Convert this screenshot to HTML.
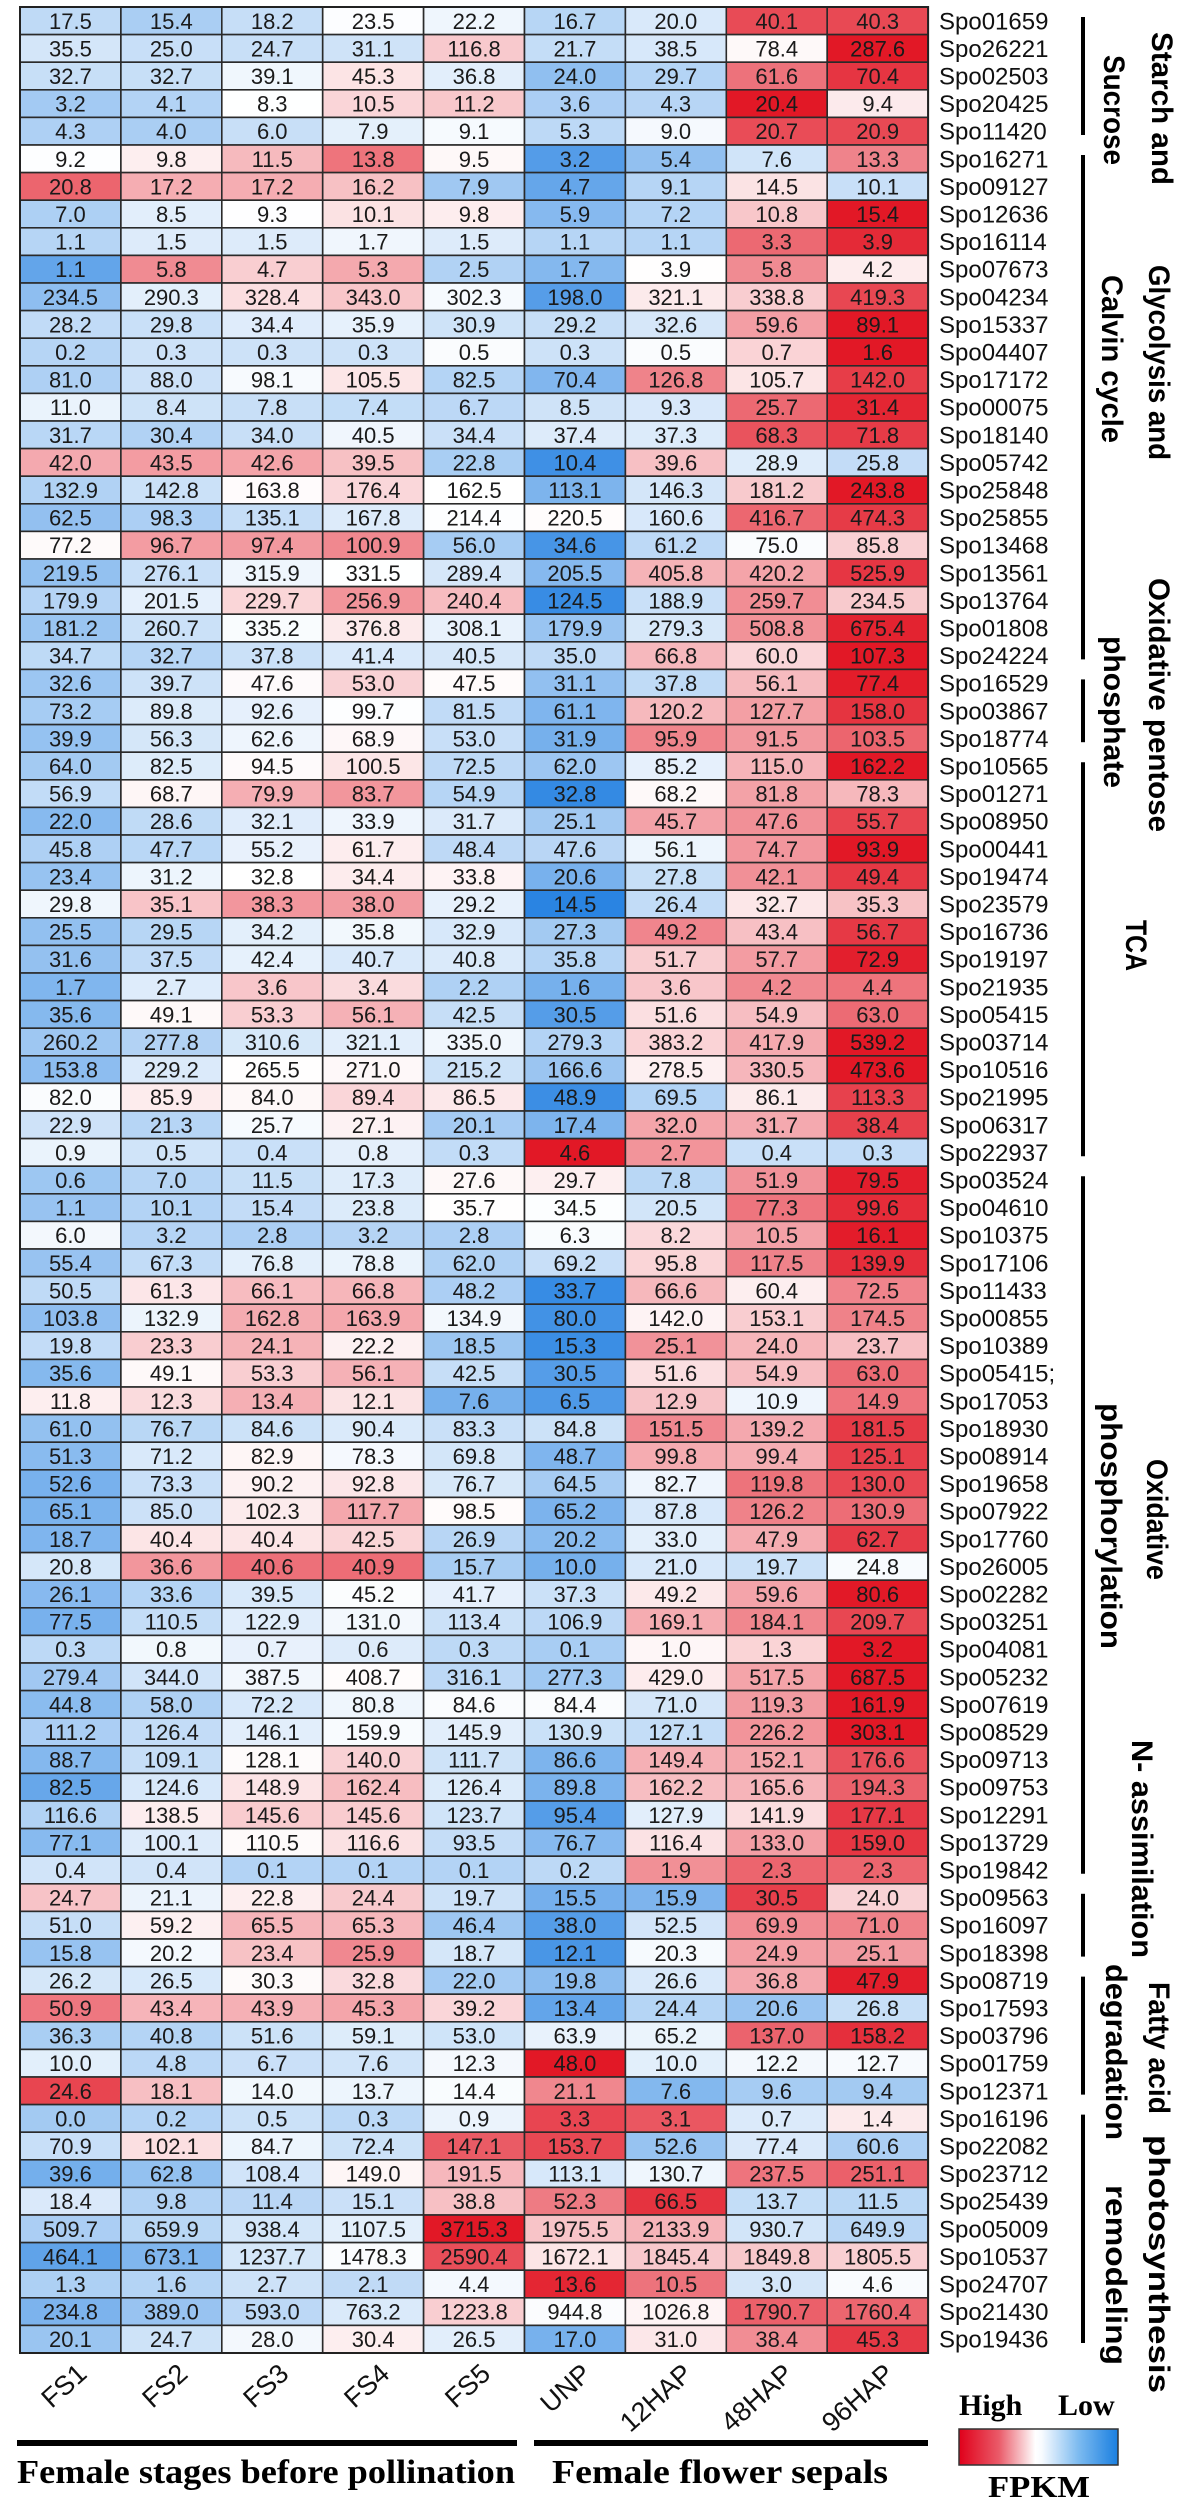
<!DOCTYPE html>
<html><head><meta charset="utf-8"><style>
html,body{margin:0;padding:0;background:#fff;}
svg{display:block;}
</style></head>
<body>
<svg id="chart" xmlns="http://www.w3.org/2000/svg" width="1182" height="2500" viewBox="0 0 1182 2500"></svg>
<script>
const columns = ["FS1","FS2","FS3","FS4","FS5","UNP","12HAP","48HAP","96HAP"];
const genes = ["Spo01659","Spo26221","Spo02503","Spo20425","Spo11420","Spo16271","Spo09127","Spo12636","Spo16114","Spo07673",
"Spo04234","Spo15337","Spo04407","Spo17172","Spo00075","Spo18140","Spo05742","Spo25848","Spo25855","Spo13468",
"Spo13561","Spo13764","Spo01808","Spo24224","Spo16529","Spo03867","Spo18774","Spo10565","Spo01271","Spo08950",
"Spo00441","Spo19474","Spo23579","Spo16736","Spo19197","Spo21935","Spo05415","Spo03714","Spo10516","Spo21995",
"Spo06317","Spo22937","Spo03524","Spo04610","Spo10375","Spo17106","Spo11433","Spo00855","Spo10389","Spo05415;",
"Spo17053","Spo18930","Spo08914","Spo19658","Spo07922","Spo17760","Spo26005","Spo02282","Spo03251","Spo04081",
"Spo05232","Spo07619","Spo08529","Spo09713","Spo09753","Spo12291","Spo13729","Spo19842","Spo09563","Spo16097",
"Spo18398","Spo08719","Spo17593","Spo03796","Spo01759","Spo12371","Spo16196","Spo22082","Spo23712","Spo25439",
"Spo05009","Spo10537","Spo24707","Spo21430","Spo19436"];
const values = [
[17.5,15.4,18.2,23.5,22.2,16.7,20.0,40.1,40.3],
[35.5,25.0,24.7,31.1,116.8,21.7,38.5,78.4,287.6],
[32.7,32.7,39.1,45.3,36.8,24.0,29.7,61.6,70.4],
[3.2,4.1,8.3,10.5,11.2,3.6,4.3,20.4,9.4],
[4.3,4.0,6.0,7.9,9.1,5.3,9.0,20.7,20.9],
[9.2,9.8,11.5,13.8,9.5,3.2,5.4,7.6,13.3],
[20.8,17.2,17.2,16.2,7.9,4.7,9.1,14.5,10.1],
[7.0,8.5,9.3,10.1,9.8,5.9,7.2,10.8,15.4],
[1.1,1.5,1.5,1.7,1.5,1.1,1.1,3.3,3.9],
[1.1,5.8,4.7,5.3,2.5,1.7,3.9,5.8,4.2],
[234.5,290.3,328.4,343.0,302.3,198.0,321.1,338.8,419.3],
[28.2,29.8,34.4,35.9,30.9,29.2,32.6,59.6,89.1],
[0.2,0.3,0.3,0.3,0.5,0.3,0.5,0.7,1.6],
[81.0,88.0,98.1,105.5,82.5,70.4,126.8,105.7,142.0],
[11.0,8.4,7.8,7.4,6.7,8.5,9.3,25.7,31.4],
[31.7,30.4,34.0,40.5,34.4,37.4,37.3,68.3,71.8],
[42.0,43.5,42.6,39.5,22.8,10.4,39.6,28.9,25.8],
[132.9,142.8,163.8,176.4,162.5,113.1,146.3,181.2,243.8],
[62.5,98.3,135.1,167.8,214.4,220.5,160.6,416.7,474.3],
[77.2,96.7,97.4,100.9,56.0,34.6,61.2,75.0,85.8],
[219.5,276.1,315.9,331.5,289.4,205.5,405.8,420.2,525.9],
[179.9,201.5,229.7,256.9,240.4,124.5,188.9,259.7,234.5],
[181.2,260.7,335.2,376.8,308.1,179.9,279.3,508.8,675.4],
[34.7,32.7,37.8,41.4,40.5,35.0,66.8,60.0,107.3],
[32.6,39.7,47.6,53.0,47.5,31.1,37.8,56.1,77.4],
[73.2,89.8,92.6,99.7,81.5,61.1,120.2,127.7,158.0],
[39.9,56.3,62.6,68.9,53.0,31.9,95.9,91.5,103.5],
[64.0,82.5,94.5,100.5,72.5,62.0,85.2,115.0,162.2],
[56.9,68.7,79.9,83.7,54.9,32.8,68.2,81.8,78.3],
[22.0,28.6,32.1,33.9,31.7,25.1,45.7,47.6,55.7],
[45.8,47.7,55.2,61.7,48.4,47.6,56.1,74.7,93.9],
[23.4,31.2,32.8,34.4,33.8,20.6,27.8,42.1,49.4],
[29.8,35.1,38.3,38.0,29.2,14.5,26.4,32.7,35.3],
[25.5,29.5,34.2,35.8,32.9,27.3,49.2,43.4,56.7],
[31.6,37.5,42.4,40.7,40.8,35.8,51.7,57.7,72.9],
[1.7,2.7,3.6,3.4,2.2,1.6,3.6,4.2,4.4],
[35.6,49.1,53.3,56.1,42.5,30.5,51.6,54.9,63.0],
[260.2,277.8,310.6,321.1,335.0,279.3,383.2,417.9,539.2],
[153.8,229.2,265.5,271.0,215.2,166.6,278.5,330.5,473.6],
[82.0,85.9,84.0,89.4,86.5,48.9,69.5,86.1,113.3],
[22.9,21.3,25.7,27.1,20.1,17.4,32.0,31.7,38.4],
[0.9,0.5,0.4,0.8,0.3,4.6,2.7,0.4,0.3],
[0.6,7.0,11.5,17.3,27.6,29.7,7.8,51.9,79.5],
[1.1,10.1,15.4,23.8,35.7,34.5,20.5,77.3,99.6],
[6.0,3.2,2.8,3.2,2.8,6.3,8.2,10.5,16.1],
[55.4,67.3,76.8,78.8,62.0,69.2,95.8,117.5,139.9],
[50.5,61.3,66.1,66.8,48.2,33.7,66.6,60.4,72.5],
[103.8,132.9,162.8,163.9,134.9,80.0,142.0,153.1,174.5],
[19.8,23.3,24.1,22.2,18.5,15.3,25.1,24.0,23.7],
[35.6,49.1,53.3,56.1,42.5,30.5,51.6,54.9,63.0],
[11.8,12.3,13.4,12.1,7.6,6.5,12.9,10.9,14.9],
[61.0,76.7,84.6,90.4,83.3,84.8,151.5,139.2,181.5],
[51.3,71.2,82.9,78.3,69.8,48.7,99.8,99.4,125.1],
[52.6,73.3,90.2,92.8,76.7,64.5,82.7,119.8,130.0],
[65.1,85.0,102.3,117.7,98.5,65.2,87.8,126.2,130.9],
[18.7,40.4,40.4,42.5,26.9,20.2,33.0,47.9,62.7],
[20.8,36.6,40.6,40.9,15.7,10.0,21.0,19.7,24.8],
[26.1,33.6,39.5,45.2,41.7,37.3,49.2,59.6,80.6],
[77.5,110.5,122.9,131.0,113.4,106.9,169.1,184.1,209.7],
[0.3,0.8,0.7,0.6,0.3,0.1,1.0,1.3,3.2],
[279.4,344.0,387.5,408.7,316.1,277.3,429.0,517.5,687.5],
[44.8,58.0,72.2,80.8,84.6,84.4,71.0,119.3,161.9],
[111.2,126.4,146.1,159.9,145.9,130.9,127.1,226.2,303.1],
[88.7,109.1,128.1,140.0,111.7,86.6,149.4,152.1,176.6],
[82.5,124.6,148.9,162.4,126.4,89.8,162.2,165.6,194.3],
[116.6,138.5,145.6,145.6,123.7,95.4,127.9,141.9,177.1],
[77.1,100.1,110.5,116.6,93.5,76.7,116.4,133.0,159.0],
[0.4,0.4,0.1,0.1,0.1,0.2,1.9,2.3,2.3],
[24.7,21.1,22.8,24.4,19.7,15.5,15.9,30.5,24.0],
[51.0,59.2,65.5,65.3,46.4,38.0,52.5,69.9,71.0],
[15.8,20.2,23.4,25.9,18.7,12.1,20.3,24.9,25.1],
[26.2,26.5,30.3,32.8,22.0,19.8,26.6,36.8,47.9],
[50.9,43.4,43.9,45.3,39.2,13.4,24.4,20.6,26.8],
[36.3,40.8,51.6,59.1,53.0,63.9,65.2,137.0,158.2],
[10.0,4.8,6.7,7.6,12.3,48.0,10.0,12.2,12.7],
[24.6,18.1,14.0,13.7,14.4,21.1,7.6,9.6,9.4],
[0.0,0.2,0.5,0.3,0.9,3.3,3.1,0.7,1.4],
[70.9,102.1,84.7,72.4,147.1,153.7,52.6,77.4,60.6],
[39.6,62.8,108.4,149.0,191.5,113.1,130.7,237.5,251.1],
[18.4,9.8,11.4,15.1,38.8,52.3,66.5,13.7,11.5],
[509.7,659.9,938.4,1107.5,3715.3,1975.5,2133.9,930.7,649.9],
[464.1,673.1,1237.7,1478.3,2590.4,1672.1,1845.4,1849.8,1805.5],
[1.3,1.6,2.7,2.1,4.4,13.6,10.5,3.0,4.6],
[234.8,389.0,593.0,763.2,1223.8,944.8,1026.8,1790.7,1760.4],
[20.1,24.7,28.0,30.4,26.5,17.0,31.0,38.4,45.3]
];
const groupNames = ["starch-sucrose","glycolysis-calvin","oxidative-pentose-phosphate","tca","oxidative-phosphorylation","n-assimilation","fatty-acid-degradation","photosynthesis-remodeling"];
const groupStart = [0,5,24,27,42,68,71,76];
const groupEnd   = [5,24,27,42,68,71,76,85];

const NS="http://www.w3.org/2000/svg";
const svg=document.getElementById('chart');
const X0=20, CW=100.9, Y0=7, RH=27.6;
function xScale(i){return X0+i*CW;}
function yScale(r){return Y0+r*RH;}
function mk(tag,attrs,parent){const e=document.createElementNS(NS,tag);for(const k in attrs)e.setAttribute(k,attrs[k]);(parent||svg).appendChild(e);return e;}
function lerp(a,b,t){return Math.round(a+(b-a)*t);}
function cellColor(v,row){
  const n=row.length;const m=row.reduce((a,b)=>a+b,0)/n;
  const sd=Math.sqrt(row.reduce((a,b)=>a+(b-m)*(b-m),0)/n)||1;
  let t=(v-m)/sd/2.3; t=Math.max(-1,Math.min(1,t));
  if(t>=0) return `rgb(${lerp(255,226,t)},${lerp(255,24,t)},${lerp(255,38,t)})`;
  t=-t; return `rgb(${lerp(255,42,t)},${lerp(255,132,t)},${lerp(255,226,t)})`;
}
const cellsG=mk('g',{});


values.forEach((row,r)=>{
  row.forEach((v,c)=>{
    const rect=mk('rect',{x:xScale(c),y:yScale(r),width:CW,height:RH,fill:cellColor(v,row),stroke:'#2a2a2a','stroke-width':1.6},cellsG);
    
    
    const t=mk('text',{x:xScale(c)+CW/2,y:yScale(r)+RH/2+8,'text-anchor':'middle','font-family':'Liberation Sans, sans-serif','font-size':22,fill:'#1a1a1a'},cellsG);
    t.textContent=v.toFixed(1);
    
    
  });
  const g=mk('text',{x:939,y:yScale(r)+RH/2+8.5,'font-family':'Liberation Sans, sans-serif','font-size':24,fill:'#111'});
  g.textContent=genes[r];
  
  
});
mk('rect',{x:X0,y:Y0,width:CW*9,height:RH*85,fill:'none',stroke:'#222','stroke-width':2});
groupStart.forEach((s,i)=>{
  const l=mk('line',{x1:1083,x2:1083,y1:yScale(s)+10,y2:yScale(groupEnd[i])-10,stroke:'#000','stroke-width':4});
  
  
});
const labels=[
 ["Starch and",1163,32,185],["Sucrose",1115,55,165],
 ["Glycolysis and",1160,265,460],["Calvin cycle",1113,275,443],
 ["Oxidative pentose",1160,578,832],["phosphate",1115,636,788],
 ["TCA",1137,920,971],
 ["Oxidative",1158,1459,1580],["phosphorylation",1112,1403,1649],
 ["N- assimilation",1143,1740,1958],
 ["Fatty acid",1160,1982,2114],["degradation",1117,1964,2140],
 ["photosynthesis",1160,2135,2393],["remodeling",1117,2185,2365]
];
labels.forEach(([txt,x,y1,y2])=>{
  const t=mk('text',{x:0,y:0,transform:`translate(${x-11},${y1}) rotate(90)`,'font-family':'Liberation Sans, sans-serif','font-weight':'bold','font-size':30,fill:'#000',textLength:y2-y1,lengthAdjust:'spacingAndGlyphs'});
  t.textContent=txt;
  
  
});
columns.forEach((c,i)=>{
  const cx=xScale(i)+CW/2+18;
  const t=mk('text',{x:0,y:0,transform:`translate(${cx},2376) rotate(-42)`,'text-anchor':'end','font-family':'Liberation Sans, sans-serif','font-size':27,fill:'#111'});
  t.textContent=c;
  
  
});
</script>
<script>
(function(){
const NS="http://www.w3.org/2000/svg";const svg=document.getElementById('chart');
function mk(tag,attrs,parent){const e=document.createElementNS(NS,tag);for(const k in attrs)e.setAttribute(k,attrs[k]);(parent||svg).appendChild(e);return e;}
let e;
e=mk('rect',{x:17,y:2440,width:500,height:6,fill:'#000'});


e=mk('rect',{x:534,y:2440,width:394,height:6,fill:'#000'});


e=mk('text',{x:17,y:2483,'font-family':'Liberation Serif, serif','font-weight':'bold','font-size':34,textLength:498,lengthAdjust:'spacingAndGlyphs'});
e.textContent='Female stages before pollination';


e=mk('text',{x:552,y:2483,'font-family':'Liberation Serif, serif','font-weight':'bold','font-size':34,textLength:336,lengthAdjust:'spacingAndGlyphs'});
e.textContent='Female flower sepals';


const defs=mk('defs',{});
const lg=mk('linearGradient',{id:'lg',x1:0,x2:1,y1:0,y2:0},defs);
[[0,'#e0001a'],[0.25,'#ea5a68'],[0.48,'#ffffff'],[0.52,'#f8fbff'],[0.75,'#7dbbf0'],[1,'#1a7fe0']].forEach(([o,c])=>mk('stop',{offset:o,'stop-color':c},lg));
e=mk('rect',{x:959,y:2429,width:159,height:36,fill:'url(#lg)',stroke:'#333','stroke-width':1.5});


e=mk('text',{x:959,y:2415,'font-family':'Liberation Serif, serif','font-weight':'bold','font-size':30});
e.textContent='High';


e=mk('text',{x:1058,y:2415,'font-family':'Liberation Serif, serif','font-weight':'bold','font-size':30});
e.textContent='Low';


e=mk('text',{x:988,y:2497,'font-family':'Liberation Serif, serif','font-weight':'bold','font-size':31,textLength:102,lengthAdjust:'spacingAndGlyphs'});
e.textContent='FPKM';


})();
</script>
</body></html>
